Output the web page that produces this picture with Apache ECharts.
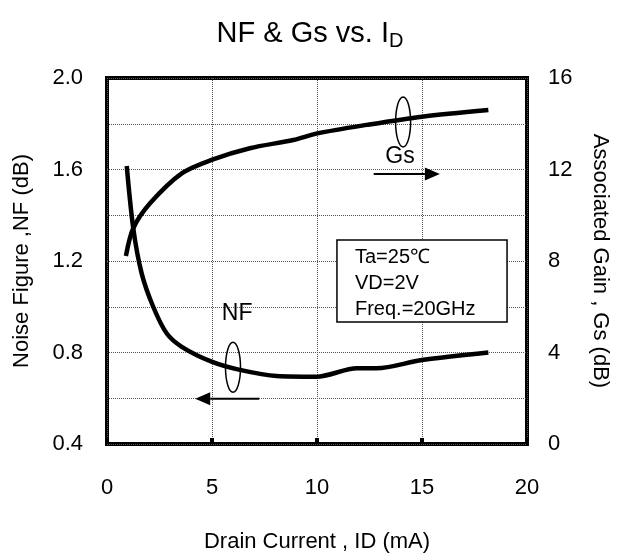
<!DOCTYPE html>
<html><head><meta charset="utf-8">
<script src="https://cdn.jsdelivr.net/npm/echarts@6/dist/echarts.min.js"></script>
<style>html,body{margin:0;padding:0;background:#fff}#c{width:620px;height:559px}</style>
</head><body><div id="c"></div>
<script>
const nfX = [0.94, 1.25, 1.65, 2.2, 2.84, 3.56, 4.98, 6.33, 8.08, 9.98, 11.9, 12.84, 15.0, 18.16];
const nfY = [1.615, 1.343, 1.146, 1.0, 0.884, 0.825, 0.76, 0.724, 0.697, 0.694, 0.731, 0.731, 0.767, 0.8];
const gsX = [0.9, 1.25, 2.05, 3.56, 4.98, 6.8, 8.87, 10.02, 12.37, 15.0, 18.16];
const gsY = [8.22, 9.43, 10.52, 11.83, 12.42, 12.93, 13.29, 13.58, 13.95, 14.31, 14.6];
const xTicks = [0, 5, 10, 15, 20];
const leftLabels = [0.4, 0.8, 1.2, 1.6, 2.0];
const rightLabels = [0, 4, 8, 12, 16];
const condLines = ['Ta=25\u2103', 'VD=2V', 'Freq.=20GHz'];

const FONT = 'Liberation Sans, Arial, sans-serif';
const chart = echarts.init(document.getElementById('c'), null, {renderer: 'canvas'});
const gridLine = {show: true, lineStyle: {color: '#555', width: 1, type: [1, 1]}};

chart.setOption({
  animation: false,
  backgroundColor: '#fff',
  title: {
    text: 'NF & Gs vs. I{sub|D}', left: 'center', top: 12,
    textStyle: {fontFamily: FONT, fontSize: 29, fontWeight: 'normal', color: '#000',
      rich: {sub: {fontFamily: FONT, fontSize: 20, verticalAlign: 'bottom', padding: [14, 0, 0, 0], color: '#000'}}}
  },
  grid: {left: 107, right: 93, top: 78, bottom: 115, show: true, borderColor: '#000', borderWidth: 4, backgroundColor: 'transparent', containLabel: false},
  xAxis: {
    type: 'value', min: 0, max: 20, interval: 5,
    name: 'Drain Current , ID (mA)', nameLocation: 'middle', nameGap: 87,
    nameTextStyle: {fontFamily: FONT, fontSize: 22, color: '#000'},
    axisLine: {show: false},
    axisTick: {show: true, inside: true, length: 6, lineStyle: {color: '#000', width: 4}},
    axisLabel: {fontFamily: FONT, fontSize: 22, color: '#000', margin: 33,
      formatter: v => xTicks.includes(v) ? String(v) : ''},
    splitLine: gridLine
  },
  yAxis: [{
    type: 'value', min: 0.4, max: 2.0, interval: 0.2, position: 'left',
    name: 'Noise Figure ,NF (dB)', nameLocation: 'middle', nameGap: 74, nameRotate: 90,
    nameTextStyle: {fontFamily: FONT, fontSize: 22, color: '#000'},
    axisLine: {show: false}, axisTick: {show: false},
    axisLabel: {fontFamily: FONT, fontSize: 22, color: '#000', margin: 24,
      formatter: v => leftLabels.some(l => Math.abs(l - v) < 1e-6) ? v.toFixed(1) : ''},
    splitLine: gridLine
  }, {
    type: 'value', min: 0, max: 16, interval: 2, position: 'right',
    name: 'Associated Gain , Gs (dB)', nameLocation: 'middle', nameGap: 62, nameRotate: -90,
    nameTextStyle: {fontFamily: FONT, fontSize: 22, color: '#000'},
    axisLine: {show: false}, axisTick: {show: false},
    axisLabel: {fontFamily: FONT, fontSize: 22, color: '#000', margin: 21,
      formatter: v => rightLabels.includes(v) ? String(v) : ''},
    splitLine: {show: false}
  }],
  series: [{
    name: 'NF', type: 'line', yAxisIndex: 0, smooth: 0.3, showSymbol: false,
    lineStyle: {color: '#000', width: 4.5},
    data: nfX.map((x, i) => [x, nfY[i]])
  }, {
    name: 'Gs', type: 'line', yAxisIndex: 1, smooth: 0.3, showSymbol: false,
    lineStyle: {color: '#000', width: 4.5},
    data: gsX.map((x, i) => [x, gsY[i]])
  }]
});

// annotations positioned in data coordinates
const P = (x, y, ax) => chart.convertToPixel({xAxisIndex: 0, yAxisIndex: ax}, [x, y]);
const gsEl = P(14.1, 14.08, 1);
const nfEl = P(6.0, 0.735, 0);
const gsTxt = P(13.95, 12.55, 1);
const nfTxt = P(6.2, 0.97, 0);
const gsA0 = P(12.7, 11.8, 1), gsA1 = P(15.85, 11.8, 1);
const nfA0 = P(7.25, 0.598, 0), nfA1 = P(4.2, 0.598, 0);
const box0 = P(10.95, 1.292, 0), box1 = P(19.05, 0.933, 0);

function arrow(a, b, dir) {
  const hl = 15, hw = 6.5;
  const tip = b[0];
  const base = tip - dir * hl;
  return [
    {type: 'line', shape: {x1: a[0], y1: a[1], x2: base, y2: b[1]}, style: {stroke: '#000', lineWidth: 2}},
    {type: 'polygon', shape: {points: [[tip, b[1]], [base, b[1] - hw], [base, b[1] + hw]]}, style: {fill: '#000'}}
  ];
}

const g = [
  {type: 'ellipse', shape: {cx: gsEl[0], cy: gsEl[1], rx: 7.5, ry: 25}, style: {fill: 'transparent', stroke: '#000', lineWidth: 1.5}},
  {type: 'ellipse', shape: {cx: nfEl[0], cy: nfEl[1], rx: 7.5, ry: 25}, style: {fill: 'transparent', stroke: '#000', lineWidth: 1.5}},
  {type: 'text', x: gsTxt[0], y: gsTxt[1], style: {text: 'Gs', font: '23px ' + FONT, fill: '#000', align: 'center', verticalAlign: 'middle'}},
  {type: 'text', x: nfTxt[0], y: nfTxt[1], style: {text: 'NF', font: '23px ' + FONT, fill: '#000', align: 'center', verticalAlign: 'middle'}},
  ...arrow(gsA0, gsA1, 1),
  ...arrow(nfA0, nfA1, -1),
  {type: 'rect', shape: {x: box0[0], y: box0[1], width: box1[0] - box0[0], height: box1[1] - box0[1]}, style: {fill: '#fff', stroke: '#000', lineWidth: 1.5}},
];
const lineH = (box1[1] - box0[1]) / 3.2;
condLines.forEach((t, i) => {
  g.push({type: 'text', x: box0[0] + 18, y: box0[1] + lineH * (0.7 + i), style: {text: t, font: '20px ' + FONT, fill: '#000', align: 'left', verticalAlign: 'middle'}});
});
chart.setOption({graphic: g});
</script>
</body></html>
